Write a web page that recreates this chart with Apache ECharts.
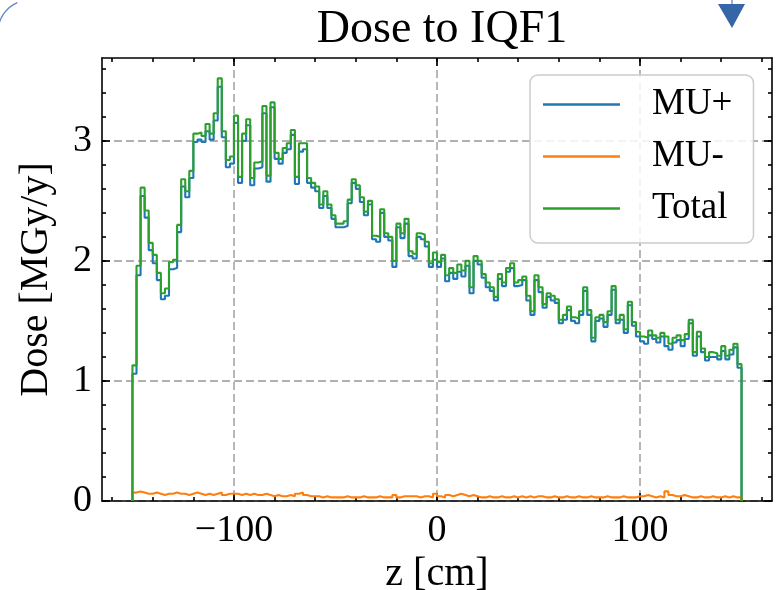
<!DOCTYPE html>
<html><head><meta charset="utf-8">
<script src="https://cdn.jsdelivr.net/npm/echarts@6/dist/echarts.min.js"></script>
<style>html,body{margin:0;padding:0;background:#fff}#c{width:780px;height:590px}</style>
</head><body><div id="c"></div><script>
// Histogram: 150 bins of 2 cm from z = -150 to 150
const zStart = -150, binWidth = 2;
const total = [
1.13,1.96,2.61,2.42,2.15,2.05,1.90,1.73,1.77,1.99,2.01,2.30,2.68,2.58,2.75,3.06,3.07,3.04,3.14,3.06,3.23,3.52,3.08,2.84,2.87,
3.21,2.70,3.06,3.18,2.69,2.82,2.83,3.29,2.71,3.32,2.90,2.85,2.94,2.98,3.09,2.70,2.98,2.98,2.69,2.65,2.62,2.47,2.58,2.47,2.38,
2.31,2.31,2.33,2.51,2.68,2.63,2.53,2.41,2.50,2.21,2.20,2.43,2.23,2.20,2.00,2.31,2.23,2.35,2.08,2.06,2.23,2.22,2.16,1.98,2.07,
1.99,2.05,1.88,1.94,1.90,1.97,1.92,2.00,1.78,2.04,2.00,1.89,1.82,1.78,1.70,1.89,1.82,1.94,1.98,1.82,1.84,1.87,1.71,1.58,1.88,
1.78,1.64,1.73,1.71,1.68,1.51,1.55,1.62,1.53,1.52,1.58,1.78,1.59,1.36,1.53,1.55,1.49,1.58,1.79,1.51,1.55,1.43,1.66,1.49,1.41,
1.37,1.36,1.42,1.38,1.36,1.40,1.37,1.31,1.36,1.38,1.34,1.39,1.51,1.24,1.41,1.27,1.20,1.24,1.23,1.21,1.29,1.21,1.26,1.31,1.14];
const muPlus = [
1.06,1.88,2.54,2.36,2.09,1.98,1.84,1.68,1.71,1.93,1.94,2.24,2.62,2.53,2.69,2.99,3.01,2.99,3.08,3.01,3.17,3.45,3.03,2.78,2.81,
3.15,2.65,3.00,3.13,2.63,2.77,2.78,3.23,2.66,3.28,2.85,2.81,2.90,2.93,3.05,2.64,2.91,2.93,2.65,2.61,2.58,2.44,2.54,2.44,2.35,
2.28,2.28,2.29,2.48,2.65,2.60,2.49,2.38,2.47,2.18,2.16,2.40,2.20,2.17,1.95,2.28,2.19,2.31,2.04,2.02,2.20,2.18,2.12,1.95,2.01,
1.95,2.02,1.83,1.90,1.85,1.91,1.87,1.96,1.73,2.00,1.97,1.86,1.78,1.75,1.67,1.85,1.79,1.91,1.94,1.79,1.80,1.84,1.67,1.55,1.84,
1.74,1.61,1.70,1.67,1.65,1.48,1.51,1.59,1.50,1.48,1.55,1.75,1.55,1.33,1.50,1.52,1.45,1.55,1.76,1.48,1.51,1.40,1.63,1.46,1.37,
1.33,1.31,1.38,1.35,1.32,1.37,1.29,1.26,1.32,1.34,1.29,1.35,1.48,1.21,1.37,1.24,1.17,1.20,1.20,1.18,1.25,1.18,1.22,1.28,1.11];
const muMinus = [
0.07,0.08,0.07,0.06,0.06,0.07,0.06,0.05,0.06,0.06,0.07,0.06,0.06,0.05,0.06,0.07,0.06,0.05,0.06,0.05,0.06,0.07,0.05,0.06,0.06,
0.06,0.05,0.06,0.05,0.06,0.05,0.05,0.06,0.05,0.04,0.05,0.04,0.04,0.05,0.04,0.06,0.07,0.05,0.04,0.04,0.04,0.03,0.04,0.03,0.03,
0.03,0.03,0.04,0.03,0.03,0.03,0.04,0.03,0.03,0.03,0.04,0.03,0.03,0.03,0.05,0.03,0.04,0.04,0.04,0.04,0.03,0.04,0.04,0.03,0.06,
0.04,0.03,0.05,0.04,0.05,0.06,0.05,0.04,0.05,0.04,0.03,0.03,0.04,0.03,0.03,0.04,0.03,0.03,0.04,0.03,0.04,0.03,0.04,0.03,0.04,
0.04,0.03,0.03,0.04,0.03,0.03,0.04,0.03,0.03,0.04,0.03,0.03,0.04,0.03,0.03,0.03,0.04,0.03,0.03,0.03,0.04,0.03,0.03,0.03,0.04,
0.04,0.05,0.04,0.03,0.04,0.03,0.08,0.05,0.04,0.04,0.05,0.04,0.03,0.03,0.04,0.03,0.03,0.04,0.03,0.03,0.04,0.03,0.04,0.03,0.03];
const seriesNames = ['MU+', 'MU-', 'Total'];
const xMajorTicks = [-100, 0, 100];
const xMinorTicks = [-160,-140,-120,-100,-80,-60,-40,-20,0,20,40,60,80,100,120,140,160];
const yMajorTicks = [0, 1, 2, 3];
const yMinorTicks = [0,0.2,0.4,0.6,0.8,1,1.2,1.4,1.6,1.8,2,2.2,2.4,2.6,2.8,3,3.2,3.4,3.6];

function stepData(vals) {
  const n = vals.length, zEnd = zStart + n * binWidth;
  const pts = [[zStart, 0]];
  vals.forEach((v, i) => pts.push([zStart + i * binWidth, v]));
  pts.push([zEnd, vals[n - 1]]);
  pts.push([zEnd, 0]);
  return pts;
}

const FONT = 'Liberation Serif';
const frame = { color: '#000', width: 1.6 };
const gridDash = { type: [8, 4], color: '#b0b0b0', width: 1.8 };
const X_MIN = -165, X_MAX = 165, Y_MIN = 0, Y_MAX = 3.69;

function xAx(pos, ticks, len, main) {
  return {
    type: 'value', min: X_MIN, max: X_MAX, position: pos, gridIndex: 0,
    axisLine: { show: !!main, onZero: false, lineStyle: frame },
    axisTick: { show: true, inside: true, length: len, customValues: ticks, lineStyle: frame },
    axisLabel: main === 'label' ? {
      customValues: ticks, color: '#000', fontFamily: FONT, fontSize: 38, margin: 11,
      formatter: v => v < 0 ? '\u2212' + Math.abs(v) : String(v)
    } : { show: false },
    splitLine: main === 'label' ? { show: true, lineStyle: gridDash } : { show: false },
    name: main === 'label' ? 'z [cm]' : '', nameLocation: 'middle', nameGap: 46,
    nameTextStyle: { fontFamily: FONT, fontSize: 40, color: '#000' }
  };
}
function yAx(pos, ticks, len, main) {
  return {
    type: 'value', min: Y_MIN, max: Y_MAX, position: pos, gridIndex: 0,
    axisLine: { show: !!main, onZero: false, lineStyle: frame },
    axisTick: { show: true, inside: true, length: len, customValues: ticks, lineStyle: frame },
    axisLabel: main === 'label' ? {
      customValues: ticks, color: '#000', fontFamily: FONT, fontSize: 38, margin: 10,
      formatter: v => String(v)
    } : { show: false },
    splitLine: main === 'label' ? { show: true, lineStyle: gridDash } : { show: false },
    name: main === 'label' ? 'Dose [MGy/y]' : '', nameLocation: 'middle', nameGap: 46,
    nameTextStyle: { fontFamily: FONT, fontSize: 40, color: '#000' }
  };
}

const chart = echarts.init(document.getElementById('c'), null, { renderer: 'canvas' });
const colors = ['#1f77b4', '#ff7f0e', '#2ca02c'];
const values = [muPlus, muMinus, total];
chart.setOption({
  animation: false,
  backgroundColor: '#fff',
  title: {
    text: 'Dose to IQF1', left: 437, top: 2, textAlign: 'center',
    textStyle: { fontFamily: FONT, fontSize: 46, fontWeight: 'normal', color: '#000' }
  },
  grid: { left: 102, right: 8, top: 58, bottom: 89, containLabel: false, outerBoundsMode: 'none' },
  xAxis: [
    xAx('bottom', xMajorTicks, 8, 'label'),
    xAx('top', xMajorTicks, 8, 'line'),
    xAx('bottom', xMinorTicks, 4, null),
    xAx('top', xMinorTicks, 4, null)
  ],
  yAxis: [
    yAx('left', yMajorTicks, 8, 'label'),
    yAx('right', yMajorTicks, 8, 'line'),
    yAx('left', yMinorTicks, 4, null),
    yAx('right', yMinorTicks, 4, null)
  ],
  legend: {
    orient: 'vertical', left: 530, top: 75,
    padding: [11, 21, 16, 13], itemGap: 15, itemWidth: 77, itemHeight: 2.4, icon: 'rect',
    backgroundColor: 'rgba(255,255,255,0.85)', borderColor: '#cccccc', borderWidth: 1.5, borderRadius: 8,
    textStyle: { fontFamily: FONT, fontSize: 37, color: '#000', padding: [0, 0, 0, 27], lineHeight: 37 },
    data: seriesNames
  },
  series: seriesNames.map((name, k) => ({
    name, type: 'line', step: 'end', symbol: 'none', showSymbol: false,
    xAxisIndex: 0, yAxisIndex: 0, z: 3 + k,
    lineStyle: { color: colors[k], width: 2.1 }, itemStyle: { color: colors[k] },
    data: stepData(values[k])
  })),
  graphic: [
    { type: 'polygon', shape: { points: [[718, 4], [745, 4], [732, 28]] }, style: { fill: '#3566a8' } },
    { type: 'line', shape: { x1: 732, y1: 0, x2: 732, y2: 5 }, style: { stroke: '#3566a8', lineWidth: 1 } },
    { type: 'arc', shape: { cx: 30, cy: 32, r: 32, startAngle: Math.PI, endAngle: Math.PI * 1.37 }, style: { stroke: '#5b82c2', lineWidth: 1.2, fill: null } }
  ]
});
</script></body></html>
